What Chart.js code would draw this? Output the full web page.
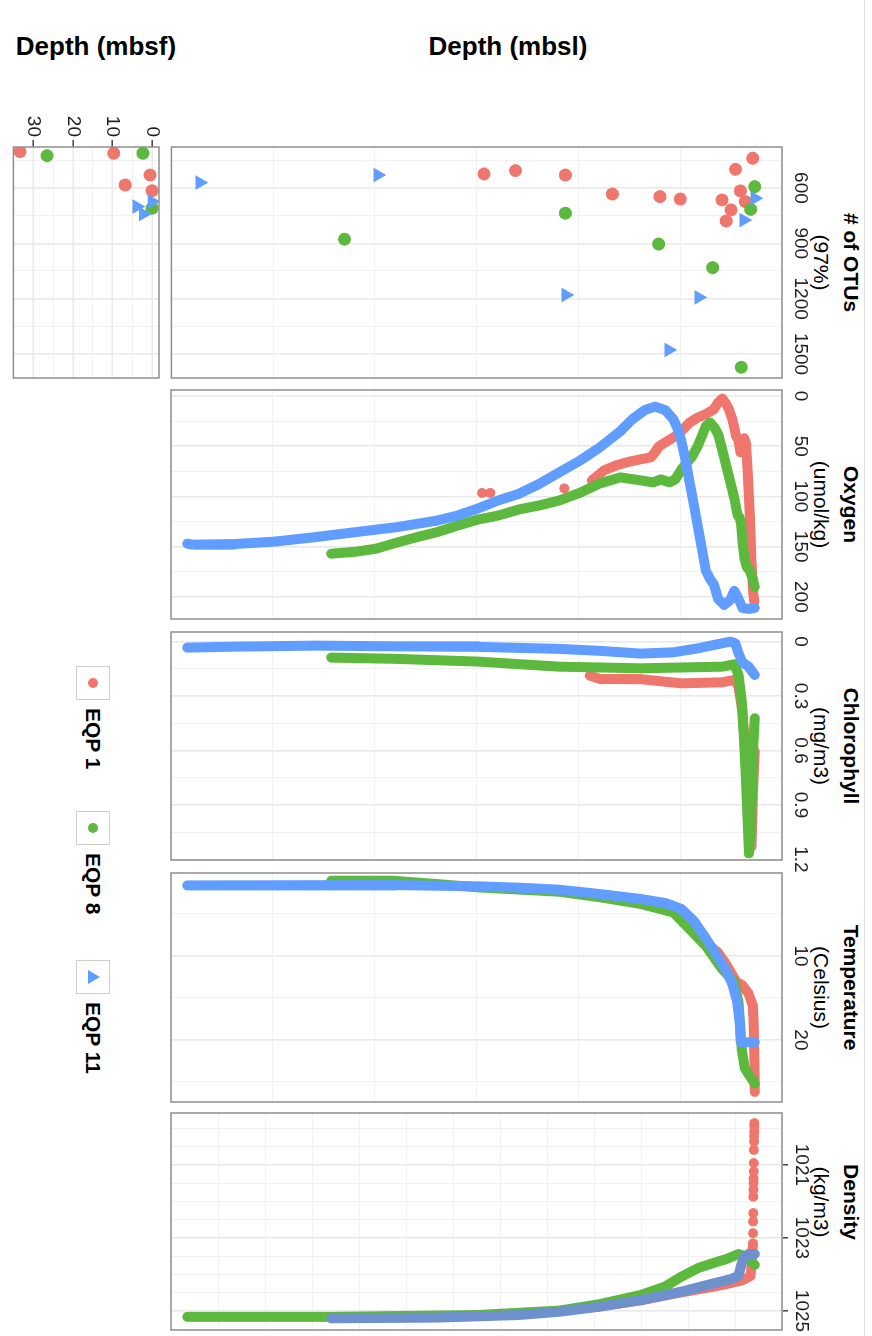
<!DOCTYPE html>
<html>
<head>
<meta charset="utf-8">
<title>EQP depth profiles</title>
<script src="https://cdn.jsdelivr.net/npm/chart.js@4.4.1/dist/chart.umd.min.js"></script>
<style>
  html, body { margin:0; padding:0; background:#fff; }
  body { width:872px; height:1336px; overflow:hidden; position:relative; }
  #fig { position:absolute; left:0; top:0; width:1336px; height:872px; transform-origin:0 0;
         transform:translate(872px,0) rotate(90deg);
         font-family:"Liberation Sans", Arial, Helvetica, sans-serif; color:#000; }
  .cw { position:absolute; }
  .cw canvas { display:block; }
  .ttl { position:absolute; text-align:center; white-space:nowrap; font-size:21px; line-height:24px; }
  .ttl.b { font-weight:bold; }
  .ytl { position:absolute; width:300px; height:30px; line-height:30px; text-align:center; font-weight:bold;
         font-size:26px; transform:rotate(-90deg); white-space:nowrap; }
  .key { position:absolute; width:32px; height:32px; border:1px solid #cdcdcd; background:#fff; }
  .dot { position:absolute; left:11px; top:11px; width:10px; height:10px; border-radius:50%; }
  .tri { position:absolute; left:9px; top:9px; width:0; height:0; border-left:7px solid transparent;
         border-right:7px solid transparent; border-bottom:12px solid #619CFF; }
  .lab { position:absolute; font-weight:bold; font-size:21px; line-height:24px; white-space:nowrap; }
  .edge { position:absolute; left:0; top:7px; width:1336px; height:1px; background:#dcdcdc; }
</style>
</head>
<body>
<div id="fig">
  <div class="edge"></div>
  <div class="ytl" style="left:-104px;top:349px">Depth (mbsl)</div>
  <div class="ytl" style="left:-104px;top:761px">Depth (mbsf)</div>

  <div class="ttl b" style="left:147px;width:231px;top:9px"># of OTUs</div>
  <div class="ttl"   style="left:147px;width:231px;top:39px">(97%)</div>
  <div class="ttl b" style="left:390px;width:229px;top:9px">Oxygen</div>
  <div class="ttl"   style="left:390px;width:229px;top:39px">(umol/kg)</div>
  <div class="ttl b" style="left:632px;width:228px;top:9px">Chlorophyll</div>
  <div class="ttl"   style="left:632px;width:228px;top:39px">(mg/m3)</div>
  <div class="ttl b" style="left:873px;width:229px;top:9px">Temperature</div>
  <div class="ttl"   style="left:873px;width:229px;top:39px">(Celsius)</div>
  <div class="ttl b" style="left:1102px;width:200px;top:9px">Density</div>
  <div class="ttl"   style="left:1102px;width:200px;top:39px">(kg/m3)</div>

  <div class="key" style="left:666px;top:762px"><div class="dot" style="background:#EE766D"></div></div>
  <div class="lab" style="left:708px;top:767px">EQP 1</div>
  <div class="key" style="left:811px;top:762px"><div class="dot" style="background:#5DB83E"></div></div>
  <div class="lab" style="left:853px;top:767px">EQP 8</div>
  <div class="key" style="left:960px;top:762px"><div class="tri"></div></div>
  <div class="lab" style="left:1002px;top:767px">EQP 11</div>
</div>
<script>
// ---------------- DATA ----------------
// # of OTUs (97%) vs depth (mbsl)
const otuRedDepth   = [21, 201, 150, 342, 98, 248, 299, 778, 992, 1488, 1980, 2502, 2831];
const otuRedCount   = [439, 499, 616, 665, 674, 719, 779, 660, 647, 633, 530, 506, 524];
const otuGreenDepth = [0, 43, 1980, 4290, 1005, 440, 141];
const otuGreenCount = [593, 716, 737, 878, 904, 1032, 1572];
const otuBlueDepth  = [5804, 3943, 1976, 586, 898, 0, 115];
const otuBlueCount  = [571, 530, 1180, 1193, 1478, 656, 774];

// # of OTUs vs depth (mbsf)
const mbsfRedDepth   = [33.4, 9.7, 0.5, 6.8, 0];
const mbsfRedCount   = [403, 412, 530, 584, 615];
const mbsfGreenDepth = [26.6, 2.3, 0];
const mbsfGreenCount = [425, 412, 710];
const mbsfBlueDepth  = [0, 3.9, 2.2];
const mbsfBlueCount  = [674, 701, 741];

// Oxygen (umol/kg)
const oxyRedDepth = [5, 15, 25, 35, 45, 55, 65, 75, 90, 110, 130, 150, 170, 195, 234, 270, 298, 340, 383, 425, 511, 596, 681, 766, 830, 915, 1000, 1042, 1085, 1191, 1319, 1447, 1574, 1702];
const oxyRedVal   = [205, 196, 180, 160, 135, 112, 92, 72, 48, 42, 52, 56, 44, 40, 23, 13, 8, 2.6, 6.6, 13, 18, 21.5, 26.4, 35, 40, 45, 50, 56, 61, 63, 65.5, 69, 74, 84];
const oxyRedBottleDepth = [1991, 2765, 2850];
const oxyRedBottleVal   = [92, 96.5, 96.5];
const oxyGreenDepth = [0, 21, 51, 85, 106, 128, 140, 157, 179, 213, 255, 298, 340, 383, 425, 468, 511, 553, 596, 660, 723, 766, 830, 894, 979, 1064, 1191, 1404, 1617, 1830, 2042, 2255, 2468, 2681, 2893, 3106, 3319, 3531, 3744, 3957, 4170, 4425];
const oxyGreenVal   = [190, 182, 174, 170, 162, 145, 129, 121, 119, 102, 86, 69, 53, 38, 31, 26.4, 30, 40, 50, 61, 68, 73, 83, 86, 83, 86, 84, 81, 87, 96.5, 104, 109, 113, 119, 123, 129, 135.5, 140.5, 146, 152, 155, 157];
const oxyBlueDepth = [0, 60, 128, 170, 213, 255, 319, 383, 425, 468, 511, 553, 596, 638, 681, 723, 766, 808, 851, 936, 1042, 1149, 1277, 1404, 1617, 1830, 2042, 2255, 2468, 2681, 2893, 3106, 3319, 3744, 4170, 4595, 5021, 5446, 5872, 5930];
const oxyBlueVal   = [211, 212, 211, 202, 194, 203, 208, 202, 188, 182, 174, 152, 129, 107, 86, 64, 45, 32, 23, 14, 10.6, 14, 23, 35, 51, 64.5, 76, 87.6, 97.5, 104, 112, 119, 124, 130.6, 135.5, 140.5, 145, 147.4, 148, 147];

// Chlorophyll (mg/m3)
const chlRedDepth   = [0, 17, 34, 64, 94, 128, 170, 213, 340, 766, 1191, 1617, 1723];
const chlRedVal     = [0.606, 0.826, 1.129, 0.936, 0.643, 0.386, 0.248, 0.211, 0.224, 0.23, 0.207, 0.206, 0.187];
const chlGreenDepth = [0, 13, 26, 43, 60, 77, 94, 115, 136, 170, 213, 340, 1191, 2042, 2893, 3744, 4425];
const chlGreenVal   = [0.422, 0.551, 0.79, 1.047, 1.166, 0.936, 0.734, 0.514, 0.33, 0.184, 0.125, 0.138, 0.147, 0.138, 0.11, 0.095, 0.088];
const chlBlueDepth  = [0, 64, 128, 170, 204, 255, 340, 596, 851, 1191, 1617, 2042, 2893, 3744, 4595, 5446, 5930];
const chlBlueVal    = [0.184, 0.138, 0.114, 0.064, 0.009, 0, 0.009, 0.037, 0.059, 0.066, 0.051, 0.04, 0.029, 0.026, 0.022, 0.028, 0.033];

// Temperature (Celsius)
const tempRedDepth   = [0, 3, 6, 10, 13, 21, 64, 128, 191, 298, 383, 511, 638, 851, 1191, 1723];
const tempRedVal     = [26.2, 23.1, 21.9, 18.5, 17.5, 15.9, 14.5, 13.5, 13.1, 11.0, 9.6, 8.4, 6.6, 4.6, 3.5, 2.6];
const tempGreenDepth = [0, 64, 106, 136, 170, 213, 340, 511, 681, 851, 1191, 1617, 2042, 2893, 3319, 3787, 4425];
const tempGreenVal   = [25.2, 24.1, 23.3, 21.1, 15.5, 13.1, 11.55, 8.8, 6.8, 4.8, 3.8, 3.0, 2.34, 1.82, 1.43, 1.03, 1.03];
const tempBlueDepth  = [0, 145, 157, 183, 234, 298, 383, 511, 638, 766, 936, 1191, 1617, 2042, 2468, 2893, 3744, 5021, 5930];
const tempBlueVal    = [20.28, 20.28, 17.9, 15.52, 13.34, 11.75, 10.16, 7.9, 5.79, 4.4, 3.69, 3.21, 2.62, 2.1, 1.86, 1.70, 1.55, 1.55, 1.63];

// Density (kg/m3)
const densRedDepth    = [20, 43, 128, 340, 766, 1191, 1702];
const densRedVal      = [1023.24, 1024.04, 1024.16, 1024.29, 1024.49, 1024.71, 1024.90];
const densRedDotDepth = [4, 5, 6, 7, 8, 9, 10, 11, 12, 13, 14, 15, 16, 17, 18, 19];
const densRedDotVal   = [1019.86, 1019.95, 1020.09, 1020.22, 1020.36, 1020.59, 1020.95, 1021.18, 1021.37, 1021.50, 1021.68, 1021.87, 1022.32, 1022.55, 1022.87, 1023.15];
const densGreenDepth  = [0, 85, 170, 298, 425, 596, 766, 936, 1191, 1617, 2042, 2893, 4425, 5930];
const densGreenVal    = [1023.74, 1023.51, 1023.44, 1023.58, 1023.68, 1023.83, 1024.06, 1024.33, 1024.56, 1024.81, 1024.99, 1025.11, 1025.16, 1025.16];
const densBlueDepth   = [0, 64, 115, 140, 170, 255, 425, 766, 1191, 1617, 2042, 2468, 3319, 4425];
const densBlueVal     = [1023.44, 1023.44, 1023.53, 1023.74, 1024.04, 1024.13, 1024.24, 1024.47, 1024.70, 1024.88, 1025.02, 1025.11, 1025.18, 1025.20];

// tick label sets
const depthTicks = [0, 2000, 4000, 6000];
const mbsfTicks  = [0, 10, 20, 30];
const otuTicks   = [600, 900, 1200, 1500];
const oxyTicks   = [0, 50, 100, 150, 200];
const chlTicks   = [0, 0.3, 0.6, 0.9, 1.2];
const tempTicks  = [10, 20];
const densTicks  = [1021, 1023, 1025];

// ---------------- STYLE ----------------
const RED = '#EE766D', GREEN = '#5DB83E', BLUE = '#619CFF', BLUE_D = '#6E90CC';
const FONT = '"Liberation Sans", Arial, Helvetica, sans-serif';
const TICK_COLOR = '#1f1f1f';
const GRID_MAJ = '#E9E9E9', GRID_MIN = '#F1F1F1';
const LINE_W = 10;
// drawing order: EQP 11 on top, then EQP 8, then EQP 1 (higher order = drawn first)
const ORD = { red: 3, green: 2, blue: 1 };
const fig = document.getElementById('fig');

const borderPlugin = {
  id: 'panelBorder',
  afterDraw(chart) {
    const a = chart.chartArea, c = chart.ctx;
    c.save();
    c.strokeStyle = '#8E8E8E';
    c.lineWidth = 1.5;
    c.strokeRect(a.left, a.top, a.right - a.left, a.bottom - a.top);
    c.restore();
  }
};

const inSet = (set, v) => set.some(t => Math.abs(t - v) < 1e-6);
const pts = (xs, ys) => xs.map((v, i) => ({ x: v, y: ys[i] }));

function lineDs(label, vals, depths, color, order) {
  return { label, order, data: pts(vals, depths), showLine: true, borderColor: color, backgroundColor: color,
           borderWidth: LINE_W, pointRadius: 0, pointHoverRadius: 0, borderCapStyle: 'round',
           borderJoinStyle: 'round', tension: 0 };
}
function pointDs(label, vals, depths, color, style, r, order) {
  return { label, order, data: pts(vals, depths), showLine: false, pointStyle: style, pointRadius: r,
           pointHoverRadius: r, backgroundColor: color, borderColor: color, borderWidth: 0 };
}

function varAxis(min, max, step, labels, showLabels, tickMarks) {
  return {
    type: 'linear', position: 'top', min, max,
    afterFit: s => { s.height = showLabels ? 90 : 0; },
    ticks: { display: showLabels, stepSize: step, includeBounds: false, autoSkip: false,
             maxRotation: 0, minRotation: 0, padding: tickMarks ? 2 : 7, color: TICK_COLOR,
             font: { family: FONT, size: 19 },
             callback: v => inSet(labels, v) ? String(Math.round(v * 100) / 100) : '' },
    grid: { color: c => inSet(labels, c.tick.value) ? GRID_MAJ : GRID_MIN,
            lineWidth: c => inSet(labels, c.tick.value) ? 1.6 : 1.1,
            drawTicks: !!tickMarks, tickLength: 6, tickWidth: 1.5,
            tickColor: c => inSet(labels, c.tick.value) ? '#444' : 'rgba(0,0,0,0)' },
    border: { display: false }
  };
}

function depthAxis(min, max, step, labels, showLabels, widthPx) {
  return {
    type: 'linear', position: 'left', reverse: true, min, max,
    afterFit: s => { s.width = widthPx; },
    ticks: { display: showLabels, stepSize: step, includeBounds: false, autoSkip: false, padding: 3,
             color: TICK_COLOR, font: { family: FONT, size: 19 },
             callback: v => inSet(labels, v) ? String(v) : '' },
    grid: { color: c => inSet(labels, c.tick.value) ? GRID_MAJ : GRID_MIN,
            lineWidth: c => inSet(labels, c.tick.value) ? 1.6 : 1.1,
            drawTicks: showLabels, tickLength: 7, tickWidth: 1.5,
            tickColor: c => inSet(labels, c.tick.value) ? '#444' : 'rgba(0,0,0,0)' },
    border: { display: false }
  };
}

function makeChart(box, datasets, xAxis, yAxis, pad) {
  const wrap = document.createElement('div');
  wrap.className = 'cw';
  Object.assign(wrap.style, { left: box.left + 'px', top: box.top + 'px', width: box.width + 'px', height: box.height + 'px' });
  const cv = document.createElement('canvas');
  cv.width = box.width; cv.height = box.height;
  cv.style.width = box.width + 'px'; cv.style.height = box.height + 'px';
  wrap.appendChild(cv);
  fig.appendChild(wrap);
  return new Chart(cv, {
    type: 'scatter',
    data: { datasets },
    options: {
      responsive: false, animation: false, devicePixelRatio: 1, events: [],
      layout: { padding: pad },
      plugins: { legend: { display: false }, tooltip: { enabled: false } },
      scales: { x: xAxis, y: yAxis }
    },
    plugins: [borderPlugin]
  });
}

const DMIN = -285, DMAX = 6100;
const sidePad = { left: 20, right: 20, top: 0, bottom: 14 };

// OTUs vs mbsl
makeChart({ left: 0, top: 0, width: 398, height: 715 }, [
  pointDs('EQP 1', otuRedCount, otuRedDepth, RED, 'circle', 6.5, ORD.red),
  pointDs('EQP 8', otuGreenCount, otuGreenDepth, GREEN, 'circle', 6.5, ORD.green),
  pointDs('EQP 11', otuBlueCount, otuBlueDepth, BLUE, 'triangle', 8.5, ORD.blue)
], varAxis(378, 1630, 150, otuTicks, true, false),
   depthAxis(DMIN, DMAX, 1000, depthTicks, true, 147),
   { left: 0, right: 20, top: 0, bottom: 14 });

// Oxygen
makeChart({ left: 370, top: 0, width: 269, height: 715 }, [
  lineDs('EQP 1', oxyRedVal, oxyRedDepth, RED, ORD.red),
  pointDs('EQP 1 bottle', oxyRedBottleVal, oxyRedBottleDepth, RED, 'circle', 5, ORD.red),
  lineDs('EQP 8', oxyGreenVal, oxyGreenDepth, GREEN, ORD.green),
  lineDs('EQP 11', oxyBlueVal, oxyBlueDepth, BLUE, ORD.blue)
], varAxis(-6, 222, 25, oxyTicks, true, false),
   depthAxis(DMIN, DMAX, 1000, depthTicks, false, 0), sidePad);

// Chlorophyll
makeChart({ left: 612, top: 0, width: 268, height: 715 }, [
  lineDs('EQP 1', chlRedVal, chlRedDepth, RED, ORD.red),
  lineDs('EQP 8', chlGreenVal, chlGreenDepth, GREEN, ORD.green),
  lineDs('EQP 11', chlBlueVal, chlBlueDepth, BLUE, ORD.blue)
], varAxis(-0.053, 1.203, 0.15, chlTicks, true, false),
   depthAxis(DMIN, DMAX, 1000, depthTicks, false, 0), sidePad);

// Temperature
makeChart({ left: 853, top: 0, width: 269, height: 715 }, [
  lineDs('EQP 1', tempRedVal, tempRedDepth, RED, ORD.red),
  lineDs('EQP 8', tempGreenVal, tempGreenDepth, GREEN, ORD.green),
  lineDs('EQP 11', tempBlueVal, tempBlueDepth, BLUE, ORD.blue)
], varAxis(0.11, 27.4, 5, tempTicks, true, false),
   depthAxis(DMIN, DMAX, 1000, depthTicks, false, 0), sidePad);

// Density
makeChart({ left: 1093, top: 0, width: 243, height: 715 }, [
  lineDs('EQP 1', densRedVal, densRedDepth, RED, ORD.red),
  pointDs('EQP 1 surface', densRedDotVal, densRedDotDepth, RED, 'circle', 5, ORD.red),
  lineDs('EQP 8', densGreenVal, densGreenDepth, GREEN, ORD.green),
  lineDs('EQP 11', densBlueVal, densBlueDepth, BLUE_D, ORD.blue)
], varAxis(1019.58, 1025.52, 0.5, densTicks, true, true),
   depthAxis(DMIN, DMAX, 500, depthTicks, false, 0), { left: 20, right: 6, top: 0, bottom: 14 });

// OTUs vs mbsf
makeChart({ left: 0, top: 693, width: 398, height: 180 }, [
  pointDs('EQP 1', mbsfRedCount, mbsfRedDepth, RED, 'circle', 6.5, ORD.red),
  pointDs('EQP 8', mbsfGreenCount, mbsfGreenDepth, GREEN, 'circle', 6.5, ORD.green),
  pointDs('EQP 11', mbsfBlueCount, mbsfBlueDepth, BLUE, 'triangle', 8.5, ORD.blue)
], varAxis(378, 1630, 150, otuTicks, false, false),
   depthAxis(-1.76, 35.1, 5, mbsfTicks, true, 147),
   { left: 0, right: 20, top: 20, bottom: 14 });
</script>
</body>
</html>
